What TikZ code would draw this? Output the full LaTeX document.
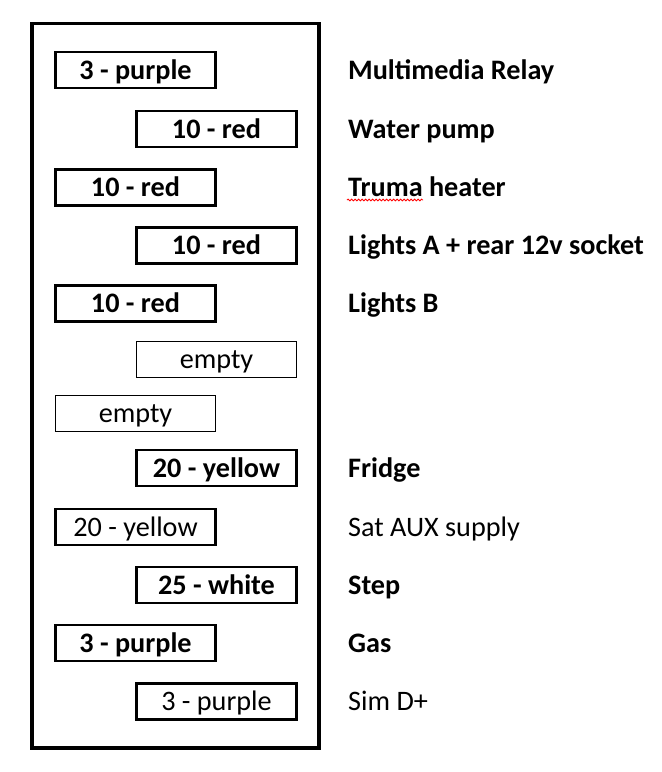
\documentclass[tikz,border=0pt]{standalone}
\usepackage{fontspec}
\setmainfont{Carlito}
\usetikzlibrary{decorations.pathmorphing}
\begin{document}
\begin{tikzpicture}[x=1pt,y=-1pt,
  fuse/.style={draw=black,line width=2.6pt,minimum width=160pt,minimum height=36pt,inner sep=0pt,
    text height=18pt,text depth=0pt,font=\fontsize{28.2}{32}\selectfont\bfseries},
  fusethin/.style={fuse,line width=1pt,font=\fontsize{28.2}{32}\selectfont},
  lbl/.style={anchor=base west,inner sep=0pt,font=\fontsize{28.2}{32}\selectfont\bfseries},
  lblthin/.style={lbl,font=\fontsize{28.2}{32}\selectfont}]
\useasboundingbox (0,0) rectangle (662,772);
\draw[line width=3.5pt] (32,23.5) rectangle (319,748);
% fuse boxes
\node[fuse] (f1) at (135.5,70) {3 - purple};
\node[fuse] (f2) at (216.5,129) {10 - red};
\node[fuse] (f3) at (135.5,187.5) {10 - red};
\node[fuse] (f4) at (216.5,245.5) {10 - red};
\node[fuse] (f5) at (135.5,303.5) {10 - red};
\node[fusethin] (f6) at (216.5,359.5) {empty};
\node[fusethin] (f7) at (135.5,413) {empty};
\node[fuse] (f8) at (216.5,468) {20 - yellow};
\node[fusethin,line width=2.6pt] (f9) at (135.5,527) {20 - yellow};
\node[fuse] (f10) at (216.5,585) {25 - white};
\node[fuse] (f11) at (135.5,643) {3 - purple};
\node[fusethin,line width=2.6pt] (f12) at (216.5,701.5) {3 - purple};
% labels
\node[lbl] (l1) at (348,79) {Multimedia Relay};
\node[lbl] (l2) at (348,138) {Water pump};
\node[lbl] (l3) at (348,196) {Truma heater};
\node[lbl] (l4) at (348,254) {Lights A + rear 12v socket};
\node[lbl] (l5) at (348,312) {Lights B};
\node[lbl] (l8) at (348,477) {Fridge};
\node[lblthin] (l9) at (348,536) {Sat AUX supply};
\node[lbl] (l10) at (348,594) {Step};
\node[lbl] (l11) at (348,652) {Gas};
\node[lblthin] (l12) at (348,710) {Sim D+};
% spell-check squiggle
\coordinate (sqa) at (347,200);
\coordinate (sqb) at (423,200);
\draw[red,line width=0.8pt,decorate,decoration={snake,amplitude=0.9pt,segment length=3.5pt}] (sqa) -- (sqb);
\end{tikzpicture}
\end{document}
